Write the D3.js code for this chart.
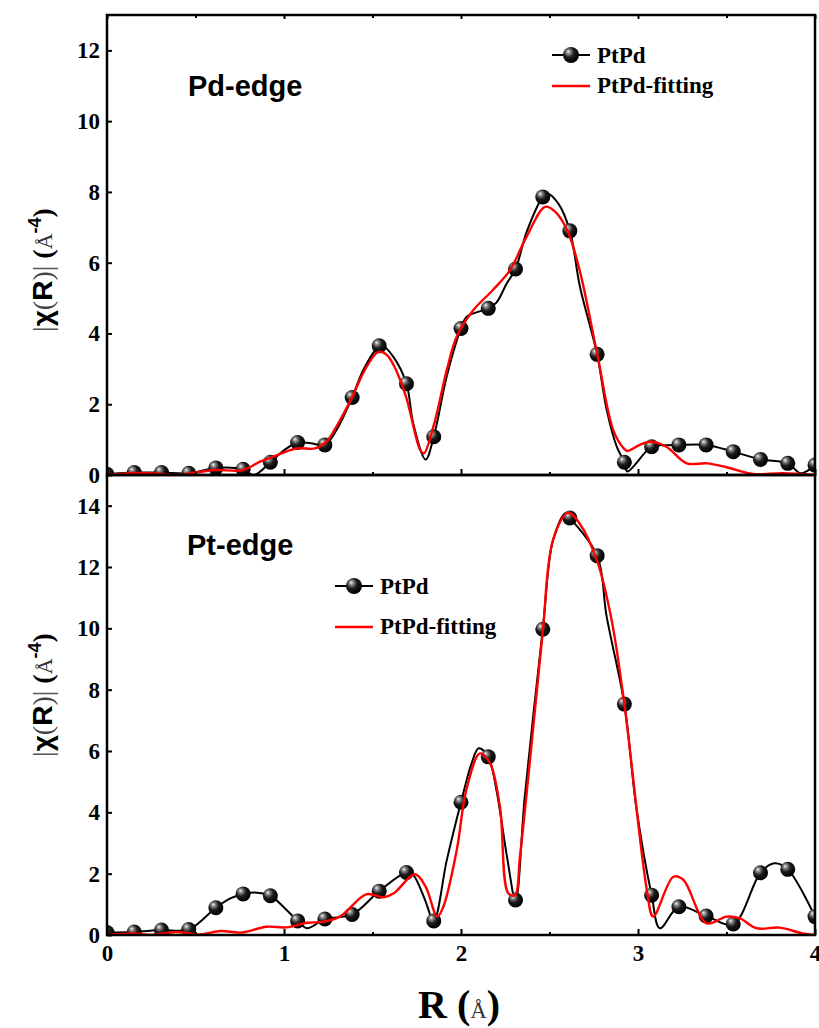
<!DOCTYPE html>
<html>
<head>
<meta charset="utf-8">
<script src="https://cdn.jsdelivr.net/npm/d3@7"></script>
<style>
  body { margin: 0; background: #fff; }
  svg { display: block; }
</style>
</head>
<body>
<div id="chart"></div>
<script>
// ---- data ----
// R positions of the drawn symbols (every symbol sits on the measured curve)
var markerR = [0, 0.154, 0.308, 0.462, 0.615, 0.769, 0.923, 1.077, 1.231, 1.385, 1.538, 1.692, 1.846,
               2.0, 2.154, 2.308, 2.462, 2.615, 2.769, 2.923, 3.077, 3.231, 3.385, 3.538, 3.692, 3.846, 4.0];

// Pd-edge, measured
var pdMarkV = [0.02, 0.07, 0.07, 0.05, 0.2, 0.16, 0.36, 0.92, 0.85, 2.19, 3.65, 2.58, 1.08,
               4.14, 4.71, 5.82, 7.86, 6.90, 3.41, 0.36, 0.80, 0.85, 0.85, 0.66, 0.44, 0.33, 0.28];
var pdLineR = [0, 0.154, 0.308, 0.462, 0.615, 0.769, 0.83, 0.923, 1.0, 1.077, 1.15, 1.231, 1.30, 1.385, 1.448,
               1.538, 1.552, 1.618, 1.692, 1.73, 1.80, 1.846, 1.92, 2.0, 2.032, 2.154, 2.20, 2.258, 2.308,
               2.371, 2.462, 2.484, 2.55, 2.615, 2.672, 2.769, 2.823, 2.88, 2.923, 2.94, 3.077, 3.15, 3.231,
               3.385, 3.538, 3.692, 3.846, 3.92, 4.0];
var pdLineV = [0.02, 0.07, 0.07, 0.05, 0.2, 0.16, 0.0, 0.36, 0.7, 0.92, 0.9, 0.85, 1.3, 2.19, 2.97,
               3.65, 3.67, 3.34, 2.58, 1.46, 0.44, 1.08, 2.8, 4.14, 4.47, 4.71, 4.87, 5.41, 5.82,
               6.87, 7.86, 7.96, 7.67, 6.90, 5.32, 3.41, 1.84, 0.80, 0.36, 0.1, 0.80, 0.84, 0.85,
               0.85, 0.66, 0.44, 0.33, 0.05, 0.28];
// Pd-edge, fitting
var pdFitR = [0, 0.154, 0.25, 0.39, 0.462, 0.61, 0.77, 0.864, 0.92, 1.07, 1.175, 1.24, 1.30, 1.385, 1.46,
              1.533, 1.58, 1.62, 1.69, 1.77, 1.79, 1.846, 1.92, 1.975, 2.07, 2.18, 2.277, 2.37, 2.475,
              2.53, 2.6, 2.67, 2.77, 2.86, 2.92, 2.94, 3.01, 3.07, 3.16, 3.275, 3.39, 3.50, 3.65, 3.82, 4.0];
var pdFitV = [0, 0.06, 0.05, 0.0, 0.04, 0.14, 0.14, 0.38, 0.48, 0.75, 0.75, 0.94, 1.4, 2.2, 3.0,
              3.48, 3.4, 3.1, 2.2, 0.7, 0.61, 1.4, 2.97, 3.9, 4.66, 5.23, 5.79, 6.73, 7.58,
              7.45, 6.92, 5.79, 3.41, 1.27, 0.75, 0.68, 0.85, 0.94, 0.80, 0.33, 0.33, 0.22, 0.03, 0.05, 0.0];

// Pt-edge, measured
var ptMarkV = [0.08, 0.1, 0.16, 0.18, 0.89, 1.34, 1.28, 0.46, 0.52, 0.67, 1.43, 2.04, 0.46,
               4.33, 5.81, 1.14, 9.97, 13.6, 12.37, 7.53, 1.30, 0.92, 0.62, 0.36, 2.03, 2.14, 0.60];
var ptLineR = [0, 0.154, 0.308, 0.462, 0.615, 0.7, 0.769, 0.85, 0.923, 1.0, 1.077, 1.13, 1.231, 1.385,
               1.538, 1.692, 1.73, 1.797, 1.846, 1.92, 2.0, 2.06, 2.10, 2.154, 2.20, 2.26, 2.308, 2.36,
               2.462, 2.52, 2.59, 2.615, 2.769, 2.823, 2.923, 2.99, 3.077, 3.124, 3.231, 3.385, 3.538,
               3.692, 3.77, 3.846, 4.0];
var ptLineV = [0.08, 0.1, 0.16, 0.18, 0.89, 1.2, 1.34, 1.38, 1.28, 0.9, 0.46, 0.22, 0.52, 0.67,
               1.43, 2.04, 1.96, 1.14, 0.46, 2.45, 4.33, 5.6, 6.09, 5.81, 4.73, 2.55, 1.14, 4.5,
               9.97, 12.88, 13.75, 13.6, 12.37, 10.38, 7.53, 4.18, 1.30, 0.22, 0.92, 0.62, 0.36,
               2.03, 2.34, 2.14, 0.60];
// Pt-edge, fitting
var ptFitR = [0, 0.154, 0.25, 0.39, 0.525, 0.64, 0.76, 0.90, 1.015, 1.13, 1.22, 1.316, 1.467, 1.56, 1.62,
              1.74, 1.80, 1.866, 1.90, 1.976, 2.03, 2.107, 2.164, 2.22, 2.267, 2.305, 2.333, 2.40, 2.462,
              2.52, 2.606, 2.67, 2.769, 2.85, 2.923, 3.05, 3.086, 3.2, 3.256, 3.388, 3.50, 3.576, 3.67,
              3.80, 3.93, 4.0];
var ptFitV = [0.0, 0.05, 0.0, 0.1, 0.02, 0.13, 0.08, 0.27, 0.25, 0.4, 0.43, 0.6, 1.33, 1.23, 1.36,
              1.98, 1.58, 0.6, 0.92, 2.77, 4.73, 5.92, 5.6, 4.18, 1.36, 1.3, 2.55, 6.3, 9.9,
              12.88, 13.77, 13.42, 12.2, 10.3, 7.53, 1.47, 0.6, 1.9, 1.8, 0.38, 0.6, 0.54, 0.22,
              0.24, 0.05, 0.0];

var xTicks = [0, 1, 2, 3, 4];
var xMinor = [0.5, 1.5, 2.5, 3.5];
var yTicksTop = [0, 2, 4, 6, 8, 10, 12];
var yTicksBot = [0, 2, 4, 6, 8, 10, 12, 14];
var seriesNames = ["PtPd", "PtPd-fitting"];
var panelNames = ["Pd-edge", "Pt-edge"];

// ---- layout ----
var width = 819, height = 1028;
var left = 107, right = 815;
var topY0 = 15, midY = 475, botY1 = 935;

var svg = d3.select("#chart").append("svg")
    .attr("width", width)
    .attr("height", height);

var defs = svg.append("defs");
var grad = defs.append("radialGradient")
    .attr("id", "ball")
    .attr("cx", "40%").attr("cy", "38%").attr("r", "60%")
    .attr("fx", "32%").attr("fy", "28%");
grad.append("stop").attr("offset", "0%").attr("stop-color", "#f4f4f4");
grad.append("stop").attr("offset", "22%").attr("stop-color", "#8a8a8a");
grad.append("stop").attr("offset", "55%").attr("stop-color", "#1c1c1c");
grad.append("stop").attr("offset", "100%").attr("stop-color", "#000");

var x = d3.scaleLinear().domain([0, 4]).range([left, right]);

var panels = [
  { name: panelNames[0], y: d3.scaleLinear().domain([0, 13]).range([midY, topY0]),
    ticks: yTicksTop, lineR: pdLineR, lineV: pdLineV, markV: pdMarkV, fitR: pdFitR, fitV: pdFitV,
    labelPos: [188, 96], legend: [552, 55], titleY: 270 },
  { name: panelNames[1], y: d3.scaleLinear().domain([0, 15]).range([botY1, midY]),
    ticks: yTicksBot, lineR: ptLineR, lineV: ptLineV, markV: ptMarkV, fitR: ptFitR, fitV: ptFitV,
    labelPos: [187, 555], legend: [335, 586], titleY: 695 }
];

var serif = "'Liberation Serif', 'Times New Roman', serif";
var sans = "'Liberation Sans', Arial, sans-serif";

panels.forEach(function(p, i) {
  var y = p.y;
  var y0 = y.range()[1], y1 = y.range()[0];

  defs.append("clipPath").attr("id", "clip" + i)
    .append("rect")
      .attr("x", left).attr("y", y0)
      .attr("width", right - left).attr("height", y1 - y0);

  var g = svg.append("g");
  var plot = g.append("g").attr("clip-path", "url(#clip" + i + ")");

  var line = d3.line()
      .x(function(d) { return x(d[0]); })
      .y(function(d) { return y(d[1]); })
      .curve(d3.curveCatmullRom.alpha(0.5));

  var meas = p.lineR.map(function(r, k) { return [r, p.lineV[k]]; });
  var fit = p.fitR.map(function(r, k) { return [r, p.fitV[k]]; });
  var marks = markerR.map(function(r, k) { return [r, p.markV[k]]; });

  plot.append("path")
      .attr("d", line(meas))
      .attr("fill", "none")
      .attr("stroke", "#000")
      .attr("stroke-width", 2);

  plot.selectAll(".dot")
    .data(marks)
    .enter().append("circle")
      .attr("class", "dot")
      .attr("cx", function(d) { return x(d[0]); })
      .attr("cy", function(d) { return y(d[1]); })
      .attr("r", 7.5)
      .attr("fill", "url(#ball)");

  plot.append("path")
      .attr("d", line(fit))
      .attr("fill", "none")
      .attr("stroke", "#ff0000")
      .attr("stroke-width", 2.4);

  // y axis, ticks pointing in
  var yAxis = g.append("g")
      .attr("transform", "translate(" + left + ",0)")
      .call(d3.axisLeft(y).tickValues(p.ticks).tickSize(-5).tickPadding(7).tickFormat(d3.format("d")));
  yAxis.selectAll("text")
      .style("font-family", serif).style("font-weight", "bold").style("font-size", "23px")
      .attr("fill", "#000");

  // bottom axis of panel, ticks pointing up
  var xAxis = g.append("g")
      .attr("transform", "translate(0," + y1 + ")")
      .call(d3.axisBottom(x).tickValues(xTicks).tickSize(-6).tickPadding(10)
            .tickFormat(i == 1 ? d3.format("d") : ""));
  xAxis.selectAll("text")
      .style("font-family", serif).style("font-weight", "bold").style("font-size", "23px")
      .attr("fill", "#000");
  g.append("g")
      .attr("transform", "translate(0," + y1 + ")")
      .call(d3.axisBottom(x).tickValues(xMinor).tickSize(-3).tickFormat(""));

  // top mirror ticks only on the upper panel
  if (i == 0) {
    g.append("g")
        .attr("transform", "translate(0," + y0 + ")")
        .call(d3.axisTop(x).tickValues(xTicks).tickSize(-4).tickFormat(""));
    g.append("g")
        .attr("transform", "translate(0," + y0 + ")")
        .call(d3.axisTop(x).tickValues(xMinor).tickSize(-3).tickFormat(""));
  }

  g.selectAll(".domain").remove();
  g.selectAll(".tick line").attr("stroke", "#000").attr("stroke-width", 2);

  // frame
  g.append("rect")
      .attr("x", left).attr("y", y0)
      .attr("width", right - left).attr("height", y1 - y0)
      .attr("fill", "none")
      .attr("stroke", "#000")
      .attr("stroke-width", 2.5);

  // panel label
  g.append("text")
      .attr("x", p.labelPos[0]).attr("y", p.labelPos[1])
      .style("font-family", sans).style("font-weight", "bold").style("font-size", "29px")
      .text(p.name);

  // legend
  var lg = g.append("g").attr("transform", "translate(" + p.legend[0] + "," + p.legend[1] + ")");
  lg.append("line").attr("x1", 0).attr("x2", 38).attr("y1", 0).attr("y2", 0)
      .attr("stroke", "#000").attr("stroke-width", 2);
  lg.append("circle").attr("cx", 19).attr("cy", 0).attr("r", 8).attr("fill", "url(#ball)");
  lg.append("text").attr("x", 45).attr("y", 8)
      .style("font-family", serif).style("font-weight", "bold").style("font-size", "23px")
      .text(seriesNames[0]);
  var gap = i == 0 ? 31 : 41;
  lg.append("line").attr("x1", 0).attr("x2", 38).attr("y1", gap).attr("y2", gap)
      .attr("stroke", "#ff0000").attr("stroke-width", 2.5);
  lg.append("text").attr("x", 45).attr("y", gap + 7)
      .style("font-family", serif).style("font-weight", "bold").style("font-size", "23px")
      .text(seriesNames[1]);

  // y title |χ(R)| (Å-4)
  var t = g.append("text")
      .attr("transform", "translate(52," + p.titleY + ") rotate(-90)")
      .attr("text-anchor", "middle")
      .style("font-size", "28px");
  t.append("tspan").style("font-family", serif).attr("fill", "#555").text("|");
  t.append("tspan").style("font-family", sans).style("font-weight", "bold").text("χ");
  t.append("tspan").style("font-family", serif).attr("fill", "#444").text("(");
  t.append("tspan").style("font-family", sans).style("font-weight", "bold").text("R");
  t.append("tspan").style("font-family", serif).attr("fill", "#444").text(")");
  t.append("tspan").style("font-family", serif).attr("fill", "#555").text("|");
  t.append("tspan").style("font-family", serif).style("font-weight", "bold").text("\u00a0(");
  t.append("tspan").style("font-family", serif).style("font-size", "22px").attr("fill", "#333").text("Å");
  t.append("tspan").style("font-family", sans).style("font-weight", "bold").style("font-size", "18px")
      .attr("dy", -11).text("-4");
  t.append("tspan").style("font-family", serif).style("font-weight", "bold").attr("dy", 11).text(")");
});

// x title R (Å)
var xt = svg.append("text")
    .attr("x", 418).attr("y", 1018)
    .style("font-family", serif).style("font-weight", "bold").style("font-size", "40px");
xt.append("tspan").text("R (");
xt.append("tspan").style("font-weight", "normal").style("font-size", "23px").attr("fill", "#333").text("Å");
xt.append("tspan").text(")");
</script>
</body>
</html>
